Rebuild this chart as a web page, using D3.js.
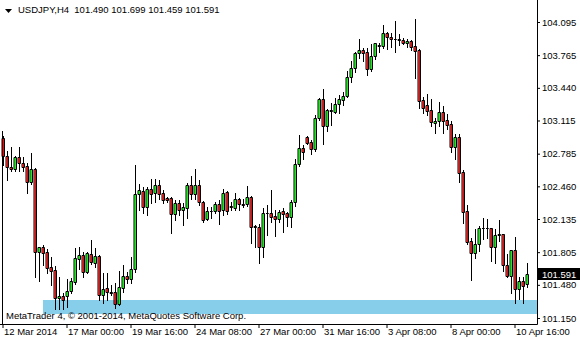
<!DOCTYPE html>
<html>
<head>
<meta charset="utf-8">
<script src="https://cdn.jsdelivr.net/npm/d3@7"></script>
<style>
  body { margin: 0; background: #fff; }
  svg text { font-family: "Liberation Sans", Arial, sans-serif; font-size: 9.5px; fill: #000; }
</style>
</head>
<body>
<div id="chart"></div>
<script>
// USDJPY H4 bars
const opens = [102.938,102.762,102.649,102.636,102.749,102.689,102.662,102.506,102.630,101.810,
  101.853,101.804,101.660,101.628,101.346,101.369,101.372,101.416,101.511,101.740,
  101.777,101.611,101.784,101.700,101.767,101.382,101.446,101.412,101.409,101.292,
  101.451,101.568,101.535,101.635,102.384,102.417,102.257,102.434,102.391,102.473,
  102.391,102.341,102.341,102.182,102.291,102.228,102.242,102.473,102.381,102.473,
  102.301,102.132,102.215,102.215,102.281,102.225,102.401,102.264,102.242,102.331,
  102.281,102.281,102.351,102.068,102.052,101.859,102.192,102.192,102.165,102.138,
  102.215,102.192,102.152,102.301,102.679,102.844,102.948,102.898,102.829,103.137,
  103.326,103.060,103.210,103.203,103.276,103.319,103.362,103.548,103.635,103.784,
  103.814,103.794,103.625,103.754,103.853,103.853,103.983,103.943,103.926,103.926,
  103.913,103.883,103.906,103.856,103.817,103.319,103.269,103.220,103.087,103.113,
  103.197,103.120,103.080,102.848,102.948,102.600,102.215,101.916,101.794,101.883,
  102.048,102.048,102.043,101.859,101.983,101.983,101.677,101.568,101.824,101.442,
  101.518,101.490];
const highs = [102.961,102.815,102.854,102.762,102.854,102.755,102.689,102.795,102.640,101.853,
  101.876,101.837,101.760,101.670,101.555,101.396,101.541,101.548,101.847,101.859,
  101.810,101.810,101.926,101.844,101.775,101.595,101.595,101.478,101.495,101.621,
  101.680,101.611,101.760,102.672,102.483,102.450,102.450,102.530,102.530,102.523,
  102.424,102.357,102.357,102.324,102.324,102.291,102.490,102.563,102.633,102.523,
  102.310,102.257,102.257,102.307,102.324,102.431,102.417,102.307,102.391,102.341,
  102.331,102.463,102.360,102.075,102.085,102.242,102.274,102.424,102.225,102.225,
  102.242,102.208,102.324,102.732,102.971,102.871,102.961,102.921,103.170,103.342,
  103.429,103.227,103.286,103.336,103.369,103.402,103.608,103.707,103.794,103.926,
  103.834,103.834,103.873,103.883,103.883,104.065,103.999,103.983,104.105,103.973,
  103.933,103.923,103.916,104.125,103.825,103.352,103.379,103.326,103.137,103.296,
  103.259,103.180,103.110,102.981,102.981,102.623,102.274,101.943,102.033,102.065,
  102.142,102.135,102.048,102.033,102.125,101.990,101.784,101.830,101.953,101.555,
  101.555,101.699];
const lows = [102.675,102.523,102.616,102.616,102.616,102.610,102.397,102.483,101.561,101.521,
  101.677,101.595,101.478,101.237,101.237,101.237,101.262,101.396,101.488,101.635,
  101.561,101.595,101.687,101.660,101.329,101.296,101.329,101.379,101.247,101.279,
  101.412,101.495,101.495,101.611,102.225,102.192,102.175,102.291,102.307,102.334,
  102.291,102.307,101.993,102.125,102.175,102.072,102.142,102.334,102.334,102.274,
  102.108,102.125,102.142,102.192,102.082,102.175,102.185,102.225,102.225,102.225,
  102.257,102.267,101.899,101.853,101.700,101.760,101.976,102.108,101.966,102.108,
  102.009,102.068,102.058,102.267,102.662,102.732,102.881,102.779,102.815,103.120,
  102.878,103.014,103.070,103.193,103.187,103.269,103.349,103.501,103.595,103.740,
  103.710,103.568,103.611,103.727,103.800,103.834,103.824,103.849,103.800,103.866,
  103.873,103.849,103.817,103.535,103.237,103.187,103.170,103.063,102.988,103.063,
  102.988,103.028,102.805,102.729,102.506,102.098,101.886,101.528,101.744,101.820,
  101.933,101.943,101.720,101.700,101.919,101.621,101.555,101.402,101.302,101.339,
  101.302,101.459];
const closes = [102.762,102.649,102.636,102.749,102.689,102.655,102.506,102.630,101.810,101.853,
  101.800,101.650,101.621,101.346,101.369,101.326,101.416,101.515,101.747,101.777,
  101.611,101.794,101.704,101.767,101.382,101.439,101.412,101.402,101.292,101.455,
  101.568,101.535,101.635,102.384,102.424,102.257,102.434,102.381,102.473,102.381,
  102.324,102.324,102.185,102.291,102.225,102.254,102.473,102.381,102.473,102.301,
  102.125,102.215,102.218,102.281,102.215,102.391,102.218,102.251,102.331,102.281,
  102.278,102.351,102.058,102.052,101.859,102.192,102.190,102.158,102.138,102.208,
  102.185,102.152,102.301,102.679,102.839,102.805,102.894,102.829,103.137,103.329,
  103.060,103.217,103.223,103.276,103.326,103.362,103.548,103.635,103.784,103.814,
  103.790,103.625,103.757,103.883,103.866,103.983,103.943,103.926,103.922,103.919,
  103.883,103.906,103.849,103.810,103.312,103.237,103.213,103.097,103.110,103.197,
  103.113,103.070,102.848,102.948,102.596,102.208,101.909,101.794,101.886,102.043,
  102.045,102.050,101.859,101.976,101.980,101.677,101.568,101.824,101.442,101.518,
  101.471,101.591];

const priceTicks = [104.095, 103.765, 103.440, 103.115, 102.785, 102.460, 102.135, 101.805, 101.480, 101.150];
const timeLabels = ["12 Mar 2014", "17 Mar 00:00", "19 Mar 16:00", "24 Mar 08:00", "27 Mar 00:00",
  "31 Mar 16:00", "3 Apr 08:00", "8 Apr 00:00", "10 Apr 16:00"];
const timeLabelBars = [0, 16, 32, 48, 64, 80, 96, 112, 128];
const lastPrice = 101.591;
const symbol = "USDJPY,H4";

const width = 580, height = 340;
const frameRight = 537, frameBottom = 324;

const svg = d3.select("#chart").append("svg")
  .attr("width", width)
  .attr("height", height);

const bars = d3.range(opens.length).map(i => ({
  i: i, o: opens[i], h: highs[i], l: lows[i], c: closes[i]
}));

const x = d3.scaleBand()
  .domain(bars.map(d => d.i))
  .range([2, 2 + 4 * bars.length]);

const y = d3.scaleLinear()
  .domain([101.150, 104.095])
  .range([318, 22]);

// copyright box behind the bars
svg.append("rect")
  .attr("x", 43).attr("y", 300)
  .attr("width", frameRight - 43).attr("height", 14)
  .attr("fill", "#87ceeb");

// frame
svg.append("line")
  .attr("x1", 0).attr("x2", frameRight + 0.5)
  .attr("y1", frameBottom + 0.5).attr("y2", frameBottom + 0.5)
  .attr("stroke", "#000");
svg.append("line")
  .attr("x1", frameRight + 0.5).attr("x2", frameRight + 0.5)
  .attr("y1", 0).attr("y2", frameBottom + 0.5)
  .attr("stroke", "#000");
svg.append("line")
  .attr("x1", 2.5).attr("x2", 2.5)
  .attr("y1", 131).attr("y2", frameBottom)
  .attr("stroke", "#000");

// wicks
svg.append("g").selectAll("rect")
  .data(bars)
  .join("rect")
  .attr("x", d => x(d.i) + 1)
  .attr("y", d => Math.round(y(d.h)))
  .attr("width", 1)
  .attr("height", d => Math.round(y(d.l)) - Math.round(y(d.h)) + 1)
  .attr("fill", "#000");

// bodies
svg.append("g").selectAll("path")
  .data(bars)
  .join("path")
  .attr("d", d => {
    const top = Math.round(y(Math.max(d.o, d.c)));
    const bot = Math.round(y(Math.min(d.o, d.c)));
    return `M${x(d.i) + 0.5},${top + 0.5}h2v${bot - top}h-2Z`;
  })
  .attr("fill", d => d.c > d.o ? "#00ff00" : "#ff0000")
  .attr("stroke", "#000")
  .attr("stroke-linecap", "square");

// price axis
const yAxis = svg.append("g")
  .attr("transform", `translate(${frameRight},0)`)
  .call(d3.axisRight(y).tickValues(priceTicks).tickFormat(d3.format(".3f")).tickSize(3).tickPadding(2));
yAxis.select(".domain").remove();
yAxis.selectAll("text").style("font-family", "Liberation Sans, Arial, sans-serif").style("font-size", "9.5px");

// last price marker
svg.append("rect")
  .attr("x", frameRight + 1).attr("y", Math.round(y(lastPrice)) - 6)
  .attr("width", width - frameRight - 1).attr("height", 12)
  .attr("fill", "#000");
svg.append("text")
  .attr("x", frameRight + 5).attr("y", Math.round(y(lastPrice)) + 3.5)
  .style("fill", "#fff")
  .text(d3.format(".3f")(lastPrice));

// time axis
const xAxis = svg.append("g")
  .attr("transform", `translate(-1,${frameBottom})`)
  .call(d3.axisBottom(x).tickValues(timeLabelBars).tickFormat((d, i) => timeLabels[i]).tickSize(4));
xAxis.select(".domain").remove();
xAxis.selectAll("text")
  .style("font-family", "Liberation Sans, Arial, sans-serif").style("font-size", "9.5px")
  .attr("text-anchor", "start")
  .attr("x", 1).attr("y", 4).attr("dy", "0.71em");

// legend line at the top
svg.append("path")
  .attr("d", "M5,9h7l-3.5,4Z")
  .attr("fill", "#000");
svg.append("text")
  .attr("x", 18).attr("y", 13)
  .attr("xml:space", "preserve")
  .text(symbol + "  " + [opens, highs, lows, closes].map(a => a[a.length - 1].toFixed(3)).join(" "));

// copyright line
svg.append("text")
  .attr("x", 6).attr("y", 319)
  .text("MetaTrader 4, \u00a9 2001-2014, MetaQuotes Software Corp.");
</script>
</body>
</html>
